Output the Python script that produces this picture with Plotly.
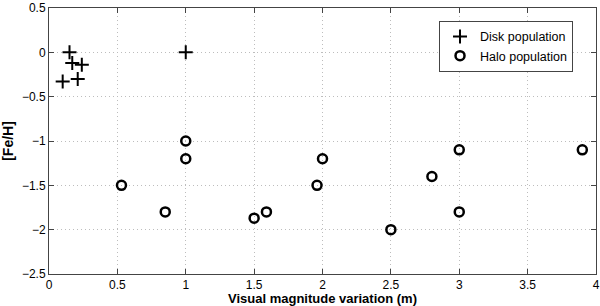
import plotly.graph_objects as go

disk_x = [0.15, 0.17, 0.24, 0.21, 0.10, 1.0]
disk_y = [0.0, -0.12, -0.14, -0.30, -0.33, 0.0]

halo_x = [0.53, 0.85, 1.0, 1.0, 1.5, 1.59, 1.96, 2.0, 2.5, 2.8, 3.0, 3.0, 3.9]
halo_y = [-1.5, -1.8, -1.0, -1.2, -1.87, -1.8, -1.5, -1.2, -2.0, -1.4, -1.1, -1.8, -1.1]

x_ticks = [0, 0.5, 1, 1.5, 2, 2.5, 3, 3.5, 4]
x_ticktext = ["0", "0.5", "1", "1.5", "2", "2.5", "3", "3.5", "4"]
y_ticks = [0.5, 0, -0.5, -1, -1.5, -2, -2.5]

fig = go.Figure()
fig.add_trace(go.Scatter(
    x=disk_x, y=disk_y, mode="markers", name="Disk population",
    marker=dict(symbol="cross-thin", size=10, color="black",
                line=dict(width=2, color="black")),
))
fig.add_trace(go.Scatter(
    x=halo_x, y=halo_y, mode="markers", name="Halo population",
    marker=dict(symbol="circle-open", size=9, color="black",
                line=dict(width=2.5, color="black")),
))

axis_common = dict(
    showline=True, linecolor="#444", linewidth=1, mirror="ticks",
    ticks="inside", ticklen=5, tickcolor="#444",
    showgrid=True, gridcolor="#bdbdbd", griddash="1px,3px", gridwidth=1,
    zeroline=False, automargin=False,
    tickfont=dict(family="Liberation Sans, Arial, sans-serif", size=12, color="black"),
)

fig.update_layout(
    width=600, height=306,
    margin=dict(l=49, r=4, t=8, b=32),
    paper_bgcolor="white", plot_bgcolor="white",
    font=dict(family="Liberation Sans, Arial, sans-serif", color="black"),
    xaxis=dict(range=[0, 4], tickvals=x_ticks, ticktext=x_ticktext,
               title=dict(text="<b>Visual magnitude variation (m)</b>",
                          font=dict(size=13)),
               **axis_common),
    yaxis=dict(range=[-2.5, 0.5], tickvals=y_ticks,
               title=dict(text="<b>[Fe/H]</b>", font=dict(size=14)),
               **axis_common),
    legend=dict(x=0.958, y=0.952, xanchor="right", yanchor="top",
                bordercolor="#444", borderwidth=1, bgcolor="white",
                font=dict(size=12.5), tracegroupgap=0, itemwidth=30),
    showlegend=True,
)

fig.write_html("out.html", config={"displayModeBar": False},
               post_script="document.body.style.margin='0';document.body.style.padding='0';")
